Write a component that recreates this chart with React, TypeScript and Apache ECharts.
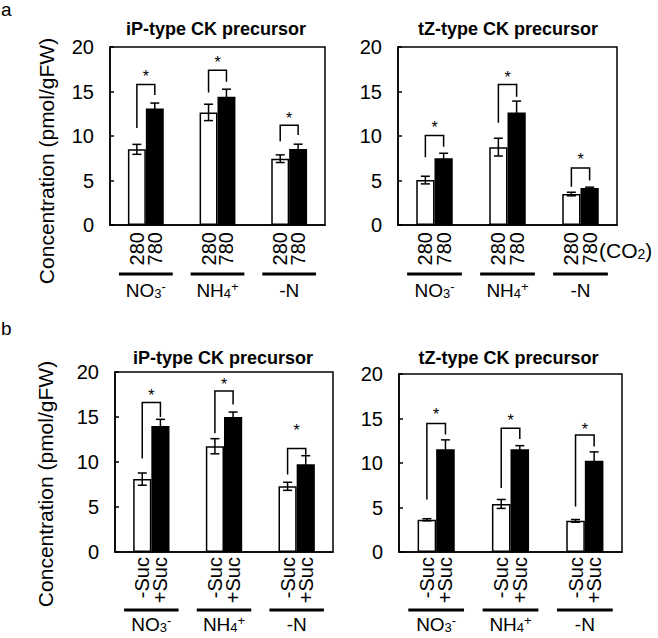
import React, { useEffect, useRef } from 'react';
import * as echarts from 'echarts';

const FONT = '"Liberation Sans", Arial, Helvetica, sans-serif';

// ---- categories / ticks ----
const groups = ['NO3-', 'NH4+', '-N'];
const co2Labels = ['280', '780'];
const sucLabels = ['-Suc', '+Suc'];
const yMin = 0;
const yMax = 20;
const yStep = 5;

// ---- a: iP-type CK precursor (CO2 280 / 780) ----
const aIP280 = [8.5, 12.65, 7.45];
const aIP280Err = [0.56, 0.92, 0.43];
const aIP780 = [13.1, 14.4, 8.55];
const aIP780Err = [0.6, 0.86, 0.53];
const aIPSigLeft = [10.9, 14.9, 9.4];
const aIPSigTop = [15.8, 17.4, 11.2];
const aIPSigRight = [14.6, 16.1, 10.1];
const aIPStar = [17.1, 18.6, 12.4];

// ---- a: tZ-type CK precursor ----
const aTZ280 = [5.05, 8.75, 3.48];
const aTZ280Err = [0.43, 1.0, 0.2];
const aTZ780 = [7.5, 12.65, 4.15];
const aTZ780Err = [0.56, 1.27, 0.1];
const aTZSigLeft = [7.6, 11.5, 4.3];
const aTZSigTop = [10.05, 15.8, 6.4];
const aTZSigRight = [8.8, 14.4, 5.0];
const aTZStar = [11.35, 17.0, 7.75];

// ---- b: iP-type CK precursor (-Suc / +Suc) ----
const bIPMinus = [8.1, 11.75, 7.3];
const bIPMinusErr = [0.68, 0.84, 0.45];
const bIPPlus = [14.0, 15.0, 9.75];
const bIPPlusErr = [0.74, 0.55, 0.95];
const bIPSigLeft = [10.4, 13.2, 8.6];
const bIPSigTop = [16.6, 17.9, 11.5];
const bIPSigRight = [15.0, 16.4, 10.8];
const bIPStar = [17.8, 19.0, 13.9];

// ---- b: tZ-type CK precursor ----
const bTZMinus = [3.62, 5.4, 3.5];
const bTZMinusErr = [0.12, 0.5, 0.15];
const bTZPlus = [11.55, 11.55, 10.25];
const bTZPlusErr = [1.05, 0.4, 1.0];
const bTZSigLeft = [5.9, 7.2, 5.1];
const bTZSigTop = [14.45, 13.9, 13.15];
const bTZSigRight = [13.2, 12.7, 11.85];
const bTZStar = [15.8, 15.2, 14.2];

const panels = [
  {
    title: 'iP-type CK precursor', labels: co2Labels,
    w: aIP280, we: aIP280Err, k: aIP780, ke: aIP780Err,
    sl: aIPSigLeft, st: aIPSigTop, sr: aIPSigRight, ss: aIPStar,
    grid: { left: 110, top: 47, width: 215, height: 178 },
    titleX: 216, titleY: 29, lineOff: 49, groupMargin: 55, labelMargin: 7,
  },
  {
    title: 'tZ-type CK precursor', labels: co2Labels,
    w: aTZ280, we: aTZ280Err, k: aTZ780, ke: aTZ780Err,
    sl: aTZSigLeft, st: aTZSigTop, sr: aTZSigRight, ss: aTZStar,
    grid: { left: 398, top: 47, width: 219, height: 178 },
    titleX: 508, titleY: 29, lineOff: 49, groupMargin: 55, labelMargin: 7,
  },
  {
    title: 'iP-type CK precursor', labels: sucLabels,
    w: bIPMinus, we: bIPMinusErr, k: bIPPlus, ke: bIPPlusErr,
    sl: bIPSigLeft, st: bIPSigTop, sr: bIPSigRight, ss: bIPStar,
    grid: { left: 115, top: 372, width: 218, height: 180 },
    titleX: 223, titleY: 358, lineOff: 58, groupMargin: 62, labelMargin: 5,
  },
  {
    title: 'tZ-type CK precursor', labels: sucLabels,
    w: bTZMinus, we: bTZMinusErr, k: bTZPlus, ke: bTZPlusErr,
    sl: bTZSigLeft, st: bTZSigTop, sr: bTZSigRight, ss: bTZStar,
    grid: { left: 399, top: 374, width: 223, height: 178 },
    titleX: 508.5, titleY: 358, lineOff: 58, groupMargin: 62, labelMargin: 5,
  },
];

const slot = (g: number, t: number) => 4 * g + 1 + t;

const groupFormatter = (v: string) => {
  if (v === 'NO3-') return '{m|NO}{s|3}{p|-}';
  if (v === 'NH4+') return '{m|NH}{s|4}{p|+}';
  return '{m|' + v + '}';
};

const groupRich = {
  m: { fontSize: 19, lineHeight: 20, fontFamily: FONT, color: '#000' },
  s: { fontSize: 13, lineHeight: 6, verticalAlign: 'bottom', fontFamily: FONT, color: '#000' },
  p: { fontSize: 13, lineHeight: 6, verticalAlign: 'top', fontFamily: FONT, color: '#000' },
};

function buildOption() {
  const grids: any[] = [];
  const xAxes: any[] = [];
  const yAxes: any[] = [];
  const series: any[] = [];
  const graphics: any[] = [];

  panels.forEach((p, i) => {
    grids.push({ ...p.grid, show: true, borderColor: '#000', borderWidth: 1.5, containLabel: false });
    const cats = groups.flatMap(() => ['', p.labels[0], p.labels[1], '']);
    xAxes.push({
      gridIndex: i, type: 'category', data: cats, position: 'bottom',
      axisLine: { show: true, lineStyle: { color: '#000', width: 1.5 } },
      axisTick: { show: false },
      axisLabel: { interval: 0, rotate: 90, margin: p.labelMargin, fontSize: 20, color: '#000', fontFamily: FONT },
      splitLine: { show: false },
    });
    xAxes.push({
      gridIndex: i, type: 'category', data: groups, position: 'bottom', offset: 0,
      axisLine: { show: false }, axisTick: { show: false }, splitLine: { show: false },
      axisLabel: { interval: 0, margin: p.groupMargin, formatter: groupFormatter, rich: groupRich },
    });
    yAxes.push({
      gridIndex: i, type: 'value', min: yMin, max: yMax, interval: yStep,
      axisLine: { show: true, lineStyle: { color: '#000', width: 1.5 } },
      axisTick: { show: true, inside: true, length: 4, lineStyle: { color: '#000', width: 1.5 } },
      axisLabel: { fontSize: 20, color: '#000', margin: 16, fontFamily: FONT },
      splitLine: { show: false },
    });

    const whiteData: (number | null)[] = cats.map(() => null);
    const blackData: (number | null)[] = cats.map(() => null);
    p.w.forEach((v, g) => { whiteData[slot(g, 0)] = v; });
    p.k.forEach((v, g) => { blackData[slot(g, 1)] = v; });

    series.push({
      type: 'bar', name: p.labels[0], xAxisIndex: 2 * i, yAxisIndex: i, data: whiteData,
      barWidth: '100%', barGap: '-100%', barCategoryGap: '0%',
      itemStyle: { color: '#fff', borderColor: '#000', borderWidth: 1.5 }, z: 2,
    });
    series.push({
      type: 'bar', name: p.labels[1], xAxisIndex: 2 * i, yAxisIndex: i, data: blackData,
      barWidth: '100%', barGap: '-100%', barCategoryGap: '0%',
      itemStyle: { color: '#000', borderColor: '#000', borderWidth: 1.5 }, z: 2,
    });

    const errData: number[][] = [];
    p.w.forEach((v, g) => errData.push([slot(g, 0), v, p.we[g]]));
    p.k.forEach((v, g) => errData.push([slot(g, 1), v, p.ke[g]]));
    series.push({
      type: 'custom', xAxisIndex: 2 * i, yAxisIndex: i, data: errData, z: 3,
      encode: { x: 0, y: 1 },
      renderItem: (params: any, api: any) => {
        const x = api.value(0), v = api.value(1), e = api.value(2);
        const t = api.coord([x, v + e]);
        const b = api.coord([x, v - e]);
        const hw = 4.5;
        const style = { stroke: '#000', lineWidth: 1.5 };
        return {
          type: 'group', children: [
            { type: 'line', shape: { x1: t[0], y1: t[1], x2: b[0], y2: b[1] }, style },
            { type: 'line', shape: { x1: t[0] - hw, y1: t[1], x2: t[0] + hw, y2: t[1] }, style },
            { type: 'line', shape: { x1: b[0] - hw, y1: b[1], x2: b[0] + hw, y2: b[1] }, style },
          ],
        };
      },
    });

    const sigData = groups.map((_, g) => [slot(g, 0), slot(g, 1), p.sl[g], p.st[g], p.sr[g], p.ss[g]]);
    series.push({
      type: 'custom', xAxisIndex: 2 * i, yAxisIndex: i, data: sigData, z: 3,
      encode: { x: 0, y: 3 },
      renderItem: (params: any, api: any) => {
        const l = api.value(0), r = api.value(1);
        const p1 = api.coord([l, api.value(2)]);
        const p2 = api.coord([l, api.value(3)]);
        const p3 = api.coord([r, api.value(3)]);
        const p4 = api.coord([r, api.value(4)]);
        const s = api.coord([l, api.value(5)]);
        return {
          type: 'group', children: [
            { type: 'polyline', shape: { points: [p1, p2, p3, p4] }, style: { stroke: '#000', lineWidth: 1.5, fill: null } },
            {
              type: 'text',
              style: {
                text: '*', x: (p2[0] + p3[0]) / 2, y: s[1] + 3.5, align: 'center', verticalAlign: 'middle',
                fontSize: 16, fontFamily: FONT, fill: '#000',
              },
            },
          ],
        };
      },
    });

    const lineOff = p.lineOff;
    series.push({
      type: 'custom', xAxisIndex: 2 * i, yAxisIndex: i, z: 3,
      data: groups.map((_, g) => [slot(g, 0), slot(g, 1), 0]),
      encode: { x: 0, y: 2 },
      renderItem: (params: any, api: any) => {
        const a = api.coord([api.value(0), 0]);
        const b = api.coord([api.value(1), 0]);
        const band = api.size([1, 0])[0];
        const y = a[1] + lineOff;
        return { type: 'line', shape: { x1: a[0] - band, y1: y, x2: b[0] + band, y2: y }, style: { stroke: '#000', lineWidth: 3 } };
      },
    });

    graphics.push({
      type: 'text', x: p.titleX, y: p.titleY,
      style: { text: p.title, align: 'center', verticalAlign: 'middle', fontSize: 18, fontWeight: 'bold', fontFamily: FONT, fill: '#000' },
    });
  });

  graphics.push({ type: 'text', x: 1, y: 0, style: { text: 'a', align: 'left', verticalAlign: 'top', fontSize: 19, fontFamily: FONT, fill: '#000' } });
  graphics.push({ type: 'text', x: 1, y: 328, style: { text: 'b', align: 'left', verticalAlign: 'middle', fontSize: 19, fontFamily: FONT, fill: '#000' } });
  graphics.push({
    type: 'text', x: 46, y: 161, rotation: Math.PI / 2,
    style: { text: 'Concentration (pmol/gFW)', align: 'center', verticalAlign: 'middle', fontSize: 21, fontFamily: FONT, fill: '#000' },
  });
  graphics.push({
    type: 'text', x: 45, y: 484, rotation: Math.PI / 2,
    style: { text: 'Concentration (pmol/gFW)', align: 'center', verticalAlign: 'middle', fontSize: 21, fontFamily: FONT, fill: '#000' },
  });
  graphics.push({
    type: 'text', x: 599, y: 250,
    style: {
      text: '{m|(CO}{s|2}{m|)}', align: 'left', verticalAlign: 'middle',
      rich: {
        m: { fontSize: 21, lineHeight: 22, fontFamily: FONT, fill: '#000', color: '#000' },
        s: { fontSize: 14, lineHeight: 6, verticalAlign: 'bottom', fontFamily: FONT, fill: '#000', color: '#000' },
      },
    },
  });

  return {
    animation: false,
    backgroundColor: '#fff',
    grid: grids,
    xAxis: xAxes,
    yAxis: yAxes,
    series,
    graphic: graphics,
  };
}

export default function App() {
  const ref = useRef<HTMLDivElement>(null);
  useEffect(() => {
    if (!ref.current) return;
    const chart = echarts.init(ref.current, undefined, { renderer: 'svg' });
    chart.setOption(buildOption() as any);
    return () => chart.dispose();
  }, []);
  return <div ref={ref} style={{ position: 'absolute', left: 0, top: 0, width: 658, height: 638 }} />;
}
